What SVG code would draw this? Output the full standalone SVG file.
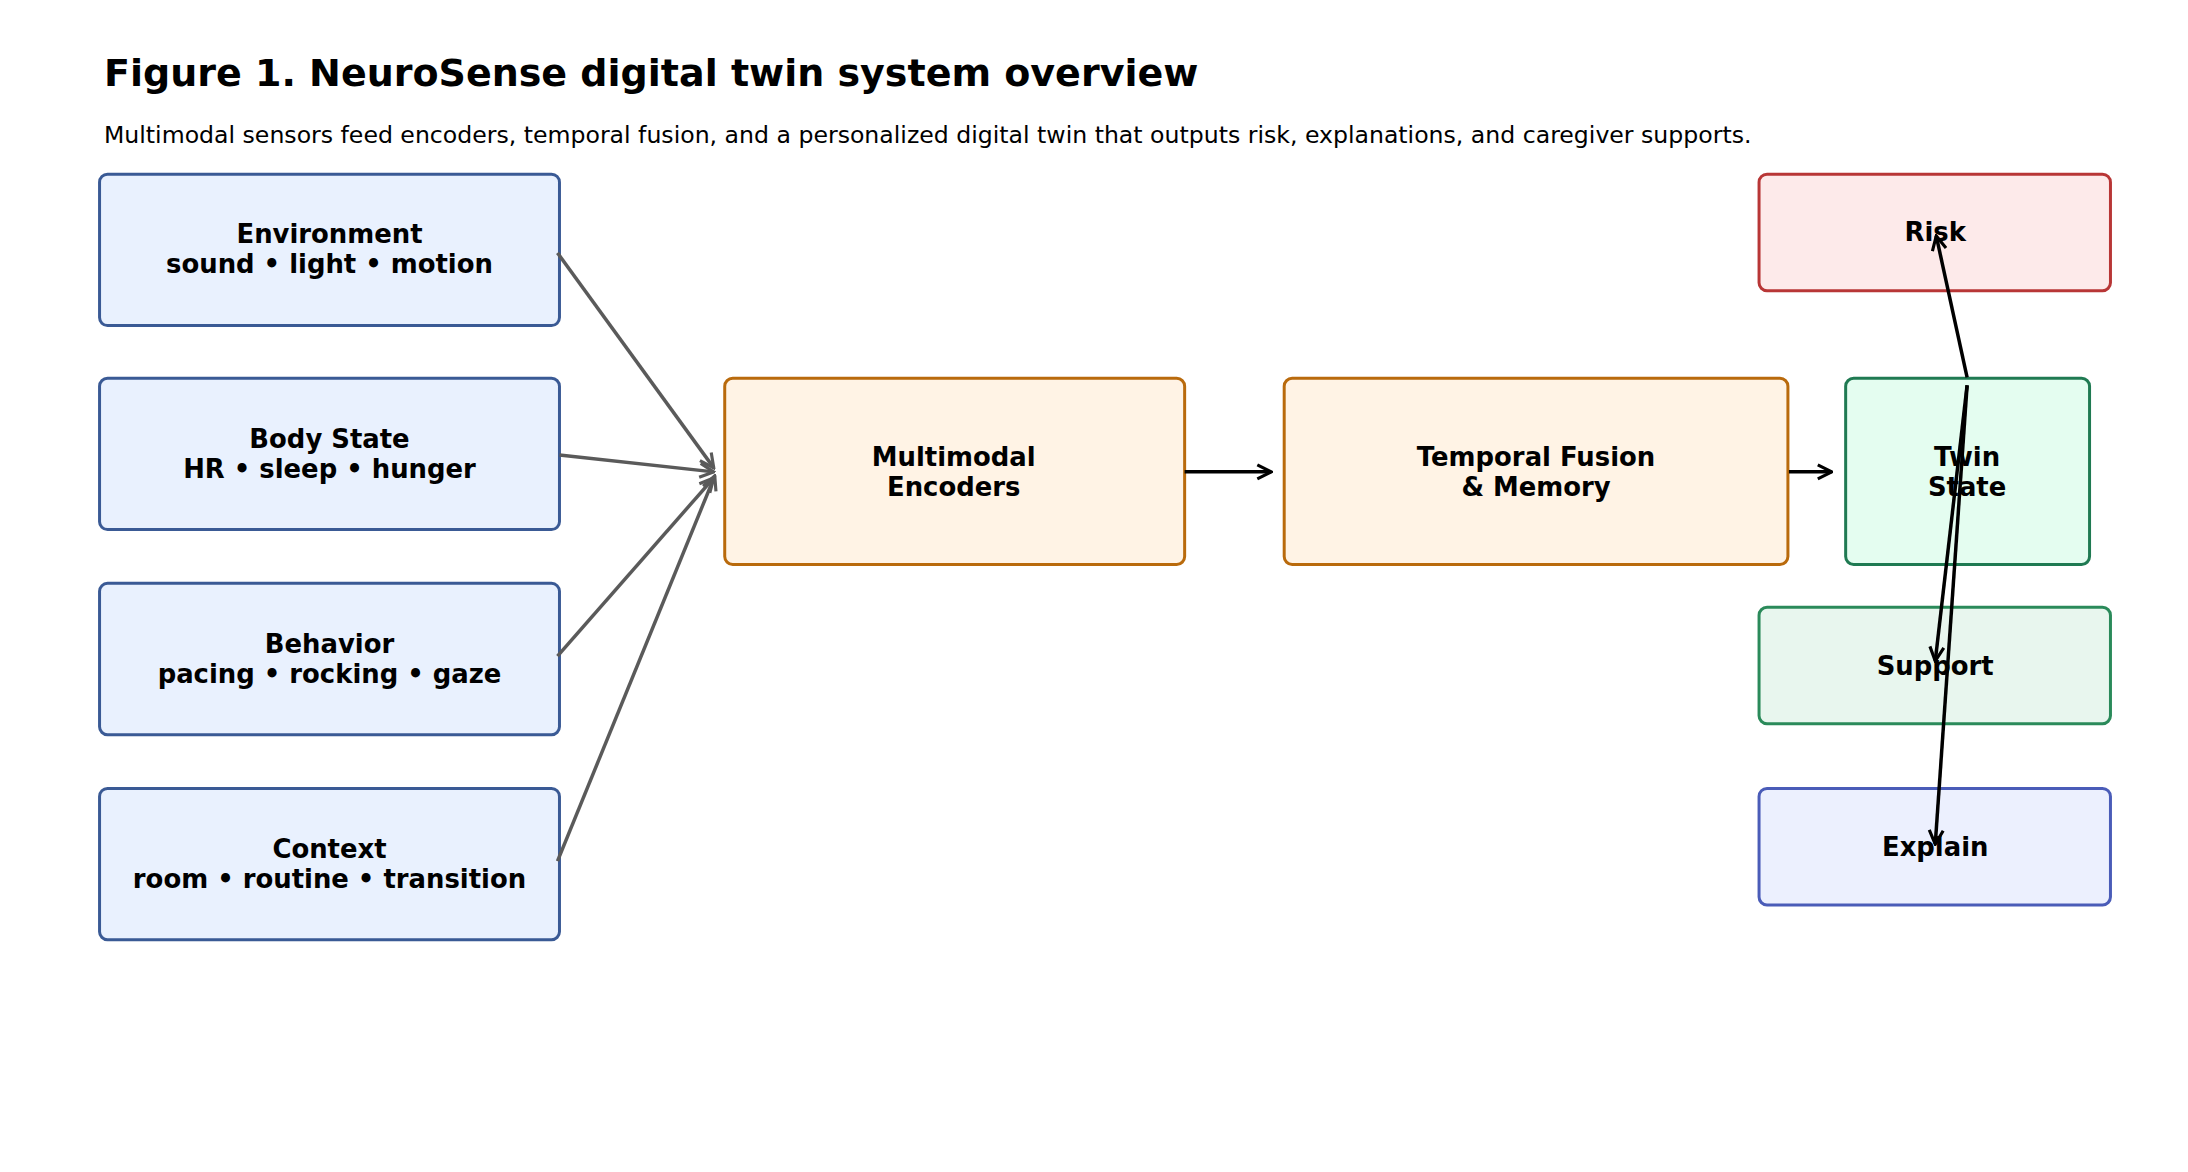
<svg xmlns="http://www.w3.org/2000/svg" width="2188" height="1172" viewBox="0 0 2188 1172">
<style>
text{font-family:"DejaVu Sans","Noto Sans",sans-serif;fill:#000}
.t{font-size:38px;font-weight:bold}
.s{font-size:23.6px}
.l{font-size:26px;font-weight:bold;text-anchor:middle}
.in rect{fill:#e9f1fe;stroke:#3a5a95;stroke-width:3}
.or rect{fill:#fff3e5;stroke:#b96a0c;stroke-width:3}
.g1{stroke:#5a5a5a;stroke-width:3.5;fill:none}
.g2{stroke:#000;stroke-width:3.5;fill:none}
</style>
<defs>
<marker id="ag" viewBox="0 0 10 10" refX="9" refY="5" markerWidth="5" markerHeight="5" orient="auto" markerUnits="strokeWidth"><path d="M1,1 L9,5 L1,9" fill="none" stroke="#5a5a5a" stroke-width="1.8"/></marker>
<marker id="ab" viewBox="0 0 10 10" refX="9" refY="5" markerWidth="5" markerHeight="5" orient="auto" markerUnits="strokeWidth"><path d="M1,1 L9,5 L1,9" fill="none" stroke="#000" stroke-width="1.8"/></marker>
</defs>
<rect width="2188" height="1172" fill="#fff"/>
<text class="t" x="104" y="86">Figure 1. NeuroSense digital twin system overview</text>
<text class="s" x="104" y="143">Multimodal sensors feed encoders, temporal fusion, and a personalized digital twin that outputs risk, explanations, and caregiver supports.</text>
<g transform="scale(0.9955)">
<g id="env" class="in"><rect x="100" y="175" width="462" height="152" rx="8"/><text class="l" x="331" y="244">Environment</text><text class="l" x="331" y="274">sound • light • motion</text></g>
<g id="body" class="in"><rect x="100" y="380" width="462" height="152" rx="8"/><text class="l" x="331" y="450">Body State</text><text class="l" x="331" y="480">HR • sleep • hunger</text></g>
<g id="behavior" class="in"><rect x="100" y="586" width="462" height="152" rx="8"/><text class="l" x="331" y="656">Behavior</text><text class="l" x="331" y="686">pacing • rocking • gaze</text></g>
<g id="context" class="in"><rect x="100" y="792" width="462" height="152" rx="8"/><text class="l" x="331" y="862">Context</text><text class="l" x="331" y="892">room • routine • transition</text></g>
<g id="encoders" class="or"><rect x="728" y="380" width="462" height="187" rx="8"/><text class="l" x="958" y="468">Multimodal</text><text class="l" x="958" y="498">Encoders</text></g>
<g id="fusion" class="or"><rect x="1290" y="380" width="506" height="187" rx="8"/><text class="l" x="1543" y="468">Temporal Fusion</text><text class="l" x="1543" y="498">&amp; Memory</text></g>
<g id="twin"><rect x="1854" y="380" width="245" height="187" rx="8" fill="#e4fdf0" stroke="#1f7a52" stroke-width="3"/><text class="l" x="1976" y="468">Twin</text><text class="l" x="1976" y="498">State</text></g>
<g id="risk"><rect x="1767" y="175" width="353" height="117" rx="8" fill="#fdeaea" stroke="#b83636" stroke-width="3"/><text class="l" x="1944" y="242">Risk</text></g>
<g id="support"><rect x="1767" y="610" width="353" height="117" rx="8" fill="#e8f6ee" stroke="#2a8a5a" stroke-width="3"/><text class="l" x="1944" y="678">Support</text></g>
<g id="explain"><rect x="1767" y="792" width="353" height="117" rx="8" fill="#ecf0fe" stroke="#4a5cb8" stroke-width="3"/><text class="l" x="1944" y="860">Explain</text></g>
<g id="connectors">
<line class="g1" x1="560" y1="254" x2="717" y2="470" marker-end="url(#ag)"/>
<line class="g1" x1="562" y1="457" x2="717" y2="474" marker-end="url(#ag)"/>
<line class="g1" x1="560" y1="659" x2="717" y2="480" marker-end="url(#ag)"/>
<line class="g1" x1="560" y1="865" x2="718" y2="478" marker-end="url(#ag)"/>
<line class="g2" x1="1190" y1="474" x2="1277" y2="474" marker-end="url(#ab)"/>
<line class="g2" x1="1797" y1="474" x2="1840" y2="474" marker-end="url(#ab)"/>
<line class="g2" x1="1976" y1="379" x2="1945" y2="237" marker-end="url(#ab)"/>
<line class="g2" x1="1976" y1="387" x2="1944" y2="664" marker-end="url(#ab)"/>
<line class="g2" x1="1976" y1="387" x2="1944" y2="848" marker-end="url(#ab)"/>
</g>
</g>
</svg>
